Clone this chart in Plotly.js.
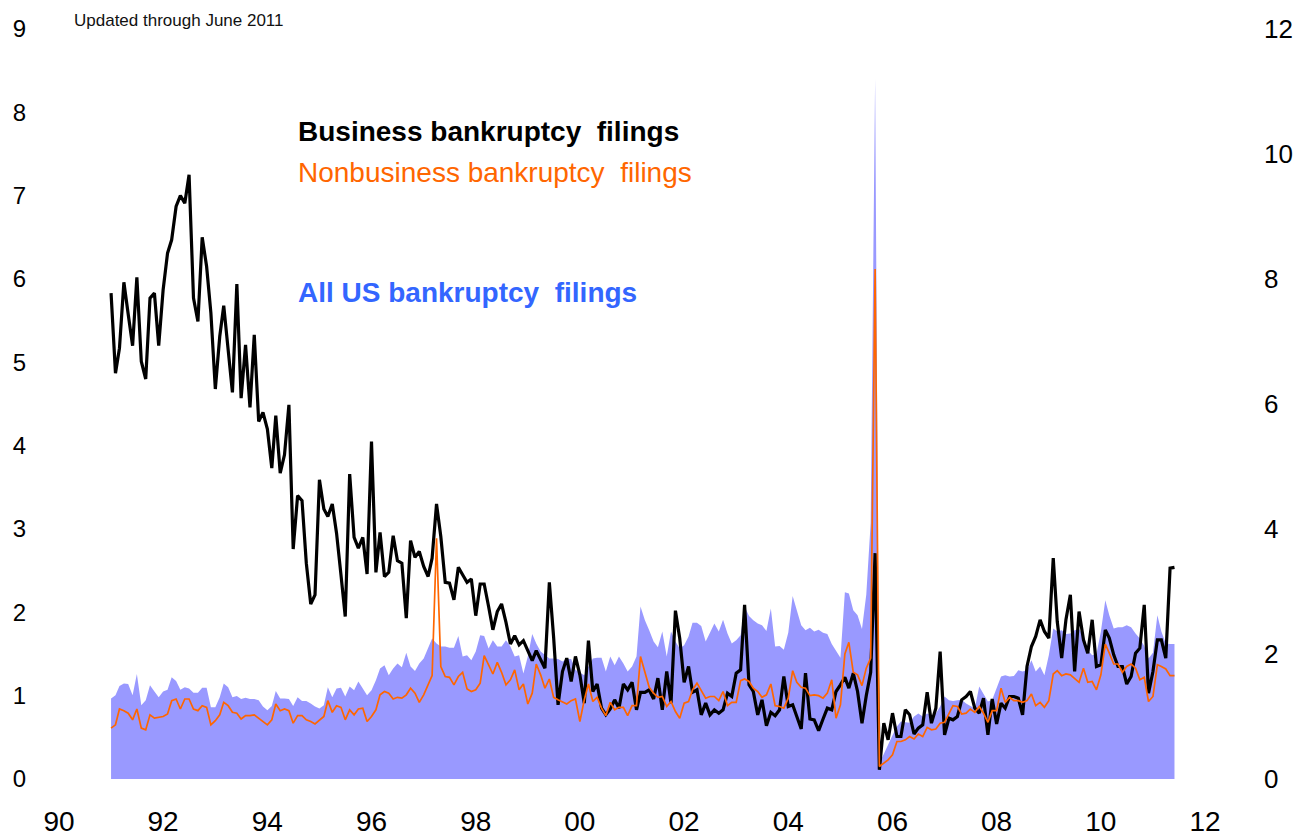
<!DOCTYPE html>
<html><head><meta charset="utf-8">
<script src="https://cdn.plot.ly/plotly-3.0.1.min.js"></script>
<style>html,body{margin:0;padding:0;background:#fff;}#chart{width:1311px;height:840px;}</style>
</head><body><div id="chart"></div>
<script>
// Monthly observations, January 1991 through June 2011
const startYear = 1991;

// Business bankruptcy filings (left axis)
const business = [
5.83,4.87,5.17,5.96,5.58,5.20,6.02,5.01,4.80,5.77,
5.83,5.20,5.87,6.31,6.47,6.87,7.00,6.91,7.25,5.77,
5.49,6.50,6.15,5.59,4.68,5.31,5.68,5.13,4.64,5.94,
4.57,5.21,4.46,5.33,4.29,4.40,4.20,3.73,4.36,3.67,
3.89,4.49,2.76,3.40,3.34,2.59,2.10,2.21,3.59,3.24,
3.15,3.30,2.95,2.45,1.95,3.66,2.90,2.77,2.90,2.46,
4.05,2.48,2.96,2.43,2.48,2.92,2.62,2.59,1.93,2.86,
2.66,2.73,2.55,2.43,2.65,3.30,2.91,2.36,2.35,2.15,
2.54,2.45,2.36,2.40,1.96,2.34,2.34,2.07,1.79,2.01,
2.10,1.88,1.62,1.72,1.61,1.66,1.54,1.42,1.54,1.43,
1.33,2.36,1.70,0.89,1.29,1.45,1.17,1.47,1.25,0.91,
1.66,1.05,1.14,0.85,0.77,0.84,0.95,0.85,1.14,1.07,
1.16,0.83,1.04,1.04,1.07,0.96,1.21,0.83,1.29,0.91,
2.02,1.69,1.16,1.35,1.04,1.07,0.77,0.91,0.77,0.83,
0.79,0.83,1.03,0.99,1.27,1.31,2.09,1.13,1.05,0.77,
0.95,0.64,0.80,0.76,0.83,1.23,0.87,0.89,0.75,0.60,
1.27,0.72,0.71,0.58,0.72,0.85,0.83,1.05,1.13,1.22,
1.09,1.27,1.05,0.67,1.00,1.28,2.71,0.11,0.67,0.47,
0.79,0.51,0.51,0.83,0.77,0.54,0.61,0.65,1.04,0.67,
0.85,1.53,0.53,0.73,0.71,0.75,0.95,0.99,1.05,0.85,
0.79,0.97,0.53,0.96,0.66,0.91,0.85,0.99,0.99,0.97,
0.77,1.35,1.59,1.71,1.91,1.77,1.69,2.65,1.89,1.45,
1.91,2.21,1.29,2.01,1.67,1.51,1.91,1.35,1.37,1.79,
1.69,1.49,1.35,1.35,1.14,1.23,1.51,1.57,2.09,1.03,
1.29,1.67,1.67,1.45,2.53,2.54
];

// Nonbusiness bankruptcy filings (left axis)
const nonbusiness = [
0.61,0.65,0.84,0.82,0.79,0.71,0.84,0.61,0.59,0.77,
0.73,0.74,0.75,0.78,0.94,0.96,0.84,0.96,0.96,0.84,
0.82,0.88,0.86,0.65,0.70,0.77,0.92,0.88,0.80,0.79,
0.72,0.76,0.76,0.77,0.73,0.69,0.65,0.71,0.90,0.82,
0.84,0.82,0.67,0.76,0.76,0.71,0.69,0.66,0.70,0.75,
0.94,0.80,0.88,0.86,0.71,0.83,0.77,0.84,0.85,0.69,
0.75,0.83,1.01,1.05,1.03,0.96,0.98,0.97,1.01,1.09,
1.03,0.92,1.01,1.13,1.24,2.89,1.35,1.23,1.22,1.13,
1.23,1.28,1.08,1.05,1.07,1.15,1.48,1.37,1.26,1.40,
1.28,1.13,1.19,1.31,1.07,1.14,0.90,1.03,1.38,1.25,
1.09,1.20,0.98,0.95,0.92,0.90,0.94,0.96,0.69,0.95,
1.14,0.93,0.98,0.85,0.76,0.92,0.83,0.86,0.86,0.76,
0.88,0.88,1.47,1.27,1.10,1.03,0.98,0.99,0.87,0.93,
0.81,0.73,0.91,0.93,1.07,1.15,1.06,0.97,0.99,0.99,
0.94,1.05,0.88,0.92,0.92,1.18,1.20,1.17,1.09,1.05,
0.98,1.01,1.14,0.88,0.87,0.85,0.97,1.30,1.16,1.10,
1.09,1.00,1.01,1.00,0.97,1.03,1.19,0.73,0.89,1.50,
1.64,1.28,1.25,1.12,1.33,1.45,6.12,0.15,0.19,0.23,
0.29,0.45,0.45,0.47,0.51,0.48,0.54,0.51,0.62,0.59,
0.60,0.67,0.68,0.78,0.88,0.87,0.78,0.79,0.84,0.80,
0.87,0.79,0.68,0.82,0.82,1.09,0.92,0.98,0.94,0.94,
0.92,0.94,1.02,0.88,0.92,0.86,0.94,1.26,1.30,1.24,
1.26,1.25,1.21,1.16,1.33,1.16,1.17,1.07,1.25,1.62,
1.51,1.38,1.38,1.28,1.35,1.38,1.33,1.19,1.22,0.93,
0.99,1.37,1.35,1.32,1.24,1.24
];

// All US bankruptcy filings (right axis)
const allFilings = [
1.29,1.34,1.49,1.53,1.52,1.34,1.68,1.18,1.26,1.50,
1.40,1.31,1.40,1.43,1.63,1.57,1.43,1.47,1.45,1.38,
1.38,1.46,1.46,1.15,1.15,1.31,1.53,1.47,1.31,1.33,
1.28,1.30,1.28,1.28,1.26,1.16,1.10,1.17,1.41,1.29,
1.29,1.28,1.17,1.31,1.25,1.25,1.21,1.16,1.13,1.18,
1.47,1.31,1.45,1.46,1.32,1.48,1.42,1.56,1.45,1.34,
1.42,1.58,1.77,1.82,1.66,1.77,1.85,1.79,2.02,1.80,
1.73,1.85,1.93,2.09,2.25,2.17,2.12,2.12,2.10,2.10,
2.29,1.96,1.98,1.90,2.04,2.30,2.29,2.09,2.22,2.12,
2.12,2.22,2.12,1.96,1.98,1.69,1.96,2.32,2.17,2.04,
1.98,1.93,1.93,1.92,1.88,1.92,1.92,1.75,1.70,1.66,
1.80,1.93,1.94,1.94,1.72,1.96,1.82,1.96,1.85,1.72,
1.80,1.96,2.76,2.54,2.38,2.20,2.11,2.36,1.96,2.36,
2.20,2.09,2.14,2.28,2.50,2.50,2.45,2.20,2.34,2.49,
2.36,2.55,2.33,2.17,2.22,2.30,2.76,2.61,2.54,2.49,
2.46,2.37,2.73,2.12,2.13,2.07,2.34,2.93,2.70,2.46,
2.38,2.42,2.36,2.39,2.34,2.32,2.16,2.06,1.94,2.99,
2.97,2.70,2.62,2.40,2.95,4.10,11.2,0.25,0.41,0.57,
0.70,0.84,0.92,0.91,0.90,1.00,1.05,1.00,1.05,1.02,
1.05,1.16,1.32,1.26,1.25,1.26,1.27,1.21,1.17,1.13,
1.48,1.37,1.24,1.27,1.45,1.64,1.66,1.64,1.65,1.74,
1.72,1.74,1.90,1.72,1.80,1.66,1.98,2.41,2.36,2.38,
2.32,2.33,2.38,2.40,2.30,2.06,1.98,2.00,2.36,2.86,
2.62,2.41,2.43,2.43,2.46,2.43,2.33,2.25,2.13,1.93,
2.02,2.62,2.36,2.17,2.16,2.16
];

// Axis ticks
const xTickVals = ['1990-01-01','1992-01-01','1994-01-01','1996-01-01','1998-01-01','2000-01-01','2002-01-01','2004-01-01','2006-01-01','2008-01-01','2010-01-01','2012-01-01'];
const xTickText = ['90','92','94','96','98','00','02','04','06','08','10','12'];
const leftTicks = [0,1,2,3,4,5,6,7,8,9];
const rightTicks = [0,2,4,6,8,10,12];

// Labels
const noteText = 'Updated through June 2011';
const businessLabel = 'Business bankruptcy  filings';
const nonbusinessLabel = 'Nonbusiness bankruptcy  filings';
const allLabel = 'All US bankruptcy  filings';

const months = business.map((_, i) => {
  const y = startYear + Math.floor(i / 12);
  const m = (i % 12) + 1;
  return y + '-' + String(m).padStart(2, '0') + '-01';
});

// Area on the primary (right-hand) axis so both lines, on the overlaying left axis, sit on top of it
const traces = [
  {x: months, y: allFilings, yaxis: 'y', type: 'scatter', mode: 'lines',
   fill: 'tozeroy', fillcolor: '#9999ff', line: {width: 0, color: '#9999ff'}, hoverinfo: 'skip'},
  {x: months, y: business, yaxis: 'y2', type: 'scatter', mode: 'lines',
   line: {color: '#000000', width: 3.2}},
  {x: months, y: nonbusiness, yaxis: 'y2', type: 'scatter', mode: 'lines',
   line: {color: '#ff6600', width: 1.7}}
];

const baseFont = 'Liberation Sans, Arial, sans-serif';

const layout = {
  width: 1311, height: 840,
  margin: {l: 59, r: 106, t: 29, b: 61, pad: 0},
  paper_bgcolor: '#ffffff', plot_bgcolor: '#ffffff',
  showlegend: false,
  xaxis: {
    type: 'date', range: ['1990-01-01', '2012-01-01'],
    tickmode: 'array', tickvals: xTickVals, ticktext: xTickText,
    showgrid: false, zeroline: false, showline: false, ticks: '',
    tickfont: {family: baseFont, size: 28, color: '#000'},
    ticklabelstandoff: 23
  },
  yaxis: {
    range: [0, 12], side: 'right', tickmode: 'array', tickvals: rightTicks,
    showgrid: false, zeroline: false, showline: false, ticks: '',
    tickfont: {family: baseFont, size: 26, color: '#000'}, ticklabelstandoff: 58
  },
  yaxis2: {
    range: [0, 9], overlaying: 'y', side: 'left', tickmode: 'array', tickvals: leftTicks,
    showgrid: false, zeroline: false, showline: false, ticks: '',
    tickfont: {family: baseFont, size: 24, color: '#000'}, ticklabelstandoff: 32
  },
  annotations: [
    {xref: 'paper', yref: 'paper', x: 0.0113, y: 1.0107, xanchor: 'left', yanchor: 'middle', showarrow: false,
     text: noteText, font: {family: baseFont, size: 17, color: '#111'}},
    {xref: 'paper', yref: 'paper', x: 0.2065, y: 0.8627, xanchor: 'left', yanchor: 'middle', showarrow: false,
     text: '<b>' + businessLabel + '</b>', font: {family: baseFont, size: 28, color: '#000'}},
    {xref: 'paper', yref: 'paper', x: 0.2065, y: 0.8093, xanchor: 'left', yanchor: 'middle', showarrow: false,
     text: nonbusinessLabel, font: {family: baseFont, size: 28, color: '#ff6600'}},
    {xref: 'paper', yref: 'paper', x: 0.2065, y: 0.6493, xanchor: 'left', yanchor: 'middle', showarrow: false,
     text: '<b>' + allLabel + '</b>', font: {family: baseFont, size: 28, color: '#3366ff'}}
  ]
};

Plotly.newPlot('chart', traces, layout, {displayModeBar: false, staticPlot: true});
</script>
</body></html>
